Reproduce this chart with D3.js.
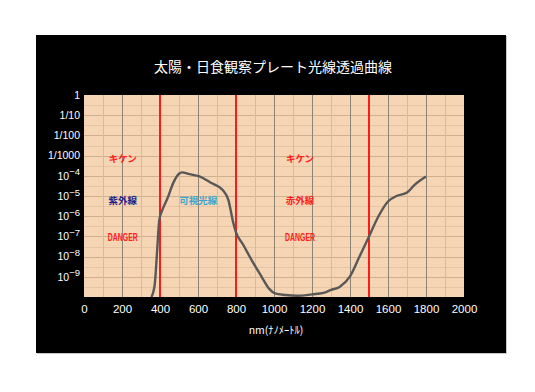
<!DOCTYPE html>
<html>
<head>
<meta charset="utf-8">
<script src="https://cdn.jsdelivr.net/npm/d3@7"></script>
<style>
  body { margin: 0; background: #fff; }
  text { font-family: "Liberation Sans", Arial, sans-serif; }
  .jp { font-family: "Noto Sans CJK JP", sans-serif; }
</style>
</head>
<body>
<div id="chart"></div>
<script>
// transmission curve (wavelength nm, log10 of transmittance)
const wavelength = [355, 372, 385, 396, 410, 440, 470, 500, 515, 555, 605, 665, 730, 760, 785, 800,
    837, 890, 935, 975, 1005, 1060, 1120, 1200, 1260, 1300, 1345, 1400, 1450, 1500, 1550, 1600,
    1645, 1700, 1740, 1800];
const logTrans = [-10, -9.4, -7.7, -6.2, -5.75, -5.1, -4.35, -3.9, -3.83, -3.92, -4.02, -4.33, -4.7, -5.2, -6.3, -6.8,
    -7.4, -8.3, -9.0, -9.6, -9.82, -9.9, -9.94, -9.87, -9.8, -9.65, -9.5, -8.98, -8.0, -7.0, -6.0, -5.27,
    -5.0, -4.83, -4.45, -4.04];

const xTicks = [0, 200, 400, 600, 800, 1000, 1200, 1400, 1600, 1800, 2000];
const yTickExp = [0, -1, -2, -3, -4, -5, -6, -7, -8, -9];
const yTickLabels = ["1", "1/10", "1/100", "1/1000", "10^−4", "10^−5", "10^−6", "10^−7", "10^−8", "10^−9"];
const dangerLines = [400, 800, 1500];

// region labels: text, wavelength anchor, log10 anchor
const regionText = ["キケン", "キケン", "紫外線", "可視光線", "赤外線", "DANGER", "DANGER"];
const regionNm = [204, 1137, 204, 601, 1137, 204, 1137];
const regionLog = [-3.17, -3.17, -5.25, -5.25, -5.25, -7.03, -7.03];
const regionKind = ["warn", "warn", "uv", "vis", "ir", "warn", "warn"];

const title = "太陽・日食観察プレート光線透過曲線";
const xTitle = "nm(ﾅﾉﾒｰﾄﾙ)";

const W = 535, H = 392;
const plot = { left: 84, top: 95, width: 380, height: 202 };

const svg = d3.select("#chart").append("svg")
    .attr("width", W)
    .attr("height", H);

// black panel with light shadow edge
svg.append("rect")
    .attr("x", 37).attr("y", 36).attr("width", 470).attr("height", 318)
    .attr("fill", "#c8c8c8");
svg.append("rect")
    .attr("x", 36).attr("y", 35).attr("width", 470).attr("height", 318)
    .attr("fill", "#000");

svg.append("text")
    .attr("class", "jp")
    .attr("x", 273).attr("y", 72)
    .attr("text-anchor", "middle")
    .attr("fill", "#fff")
    .attr("font-size", 14)
    .text(title);

const x = d3.scaleLinear().domain([0, 2000]).range([0, plot.width]);
const y = d3.scaleLog().domain([1e-10, 1]).range([plot.height, 0]);

const g = svg.append("g")
    .attr("transform", `translate(${plot.left},${plot.top})`);

g.append("rect")
    .attr("width", plot.width).attr("height", plot.height)
    .attr("fill", "#f6d5b4");

// horizontal grid: half decades light, decades darker
const halfDec = d3.range(-9.5, 0, 1);
g.selectAll(".hminor").data(halfDec).enter().append("line")
    .attr("x1", 0).attr("x2", plot.width)
    .attr("y1", d => Math.round(y(Math.pow(10, d))) + 0.5)
    .attr("y2", d => Math.round(y(Math.pow(10, d))) + 0.5)
    .attr("stroke", "#e7c4a3");
g.selectAll(".hmajor").data(yTickExp.slice(1)).enter().append("line")
    .attr("x1", 0).attr("x2", plot.width)
    .attr("y1", d => Math.round(y(Math.pow(10, d))) + 0.5)
    .attr("y2", d => Math.round(y(Math.pow(10, d))) + 0.5)
    .attr("stroke", "#d0af8f");

// vertical grid: every 100 light, every 200 dark
g.selectAll(".vminor").data(d3.range(100, 2000, 200)).enter().append("line")
    .attr("y1", 0).attr("y2", plot.height)
    .attr("x1", d => Math.round(x(d)) + 0.5)
    .attr("x2", d => Math.round(x(d)) + 0.5)
    .attr("stroke", "#dcb998");
g.selectAll(".vmajor").data(xTicks.slice(1, -1)).enter().append("line")
    .attr("y1", 0).attr("y2", plot.height)
    .attr("x1", d => Math.round(x(d)) + 0.5)
    .attr("x2", d => Math.round(x(d)) + 0.5)
    .attr("stroke", "#8e8476");

// red danger borders
g.selectAll(".danger").data(dangerLines).enter().append("line")
    .attr("y1", 0).attr("y2", plot.height)
    .attr("x1", d => x(d)).attr("x2", d => x(d))
    .attr("stroke", "#ff1a1a")
    .attr("stroke-width", 2);

// region labels
const regionColor = { warn: "#ff2020", uv: "#1e1e88", vis: "#3aa6cf", ir: "#ff2020" };
g.selectAll(".region").data(regionText).enter().append("text")
    .attr("class", d => d === "DANGER" ? "" : "jp")
    .attr("x", (d, i) => x(regionNm[i]))
    .attr("y", (d, i) => y(Math.pow(10, regionLog[i])))
    .attr("dy", "0.36em")
    .attr("text-anchor", "middle")
    .attr("font-size", d => d === "DANGER" ? 11 : 9.5)
    .attr("font-weight", "bold")
    .attr("fill", (d, i) => regionColor[regionKind[i]])
    .attr("textLength", d => d === "DANGER" ? 30 : null)
    .attr("lengthAdjust", "spacingAndGlyphs")
    .text(d => d);

// transmission curve
const pts = wavelength.map((w, i) => [w, Math.pow(10, logTrans[i])]);
const line = d3.line()
    .x(d => x(d[0]))
    .y(d => y(d[1]))
    .curve(d3.curveMonotoneX);
g.append("path")
    .datum(pts)
    .attr("d", line)
    .attr("fill", "none")
    .attr("stroke", "#585858")
    .attr("stroke-width", 2.4)
    .attr("stroke-linejoin", "round");

// axes
const xAxis = d3.axisBottom(x).tickValues(xTicks).tickSize(0).tickPadding(8)
    .tickFormat(d3.format("d"));
const xg = g.append("g")
    .attr("transform", `translate(0,${plot.height})`)
    .call(xAxis);
xg.select(".domain").remove();
xg.selectAll("text").attr("fill", "#fff").attr("font-size", 11.5)
    .attr("font-family", "Liberation Sans, Arial, sans-serif");

const yAxis = d3.axisLeft(y)
    .tickValues(yTickExp.map(e => Math.pow(10, e)))
    .tickSize(0).tickPadding(4)
    .tickFormat(() => "");
const yg = g.append("g").call(yAxis);
yg.select(".domain").remove();
yg.selectAll("text").each(function(d, i) {
    const t = d3.select(this)
        .attr("fill", "#fff")
        .attr("font-size", 10.5)
        .attr("font-family", "Liberation Sans, Arial, sans-serif");
    const lab = yTickLabels[i];
    if (lab.indexOf("^") < 0) {
        t.text(lab);
    } else {
        const parts = lab.split("^");
        t.append("tspan").text(parts[0]);
        t.append("tspan").attr("dy", "-0.45em").attr("font-size", 9.5).text(parts[1]);
    }
});

svg.append("text")
    .attr("class", "jp")
    .attr("x", 276).attr("y", 334)
    .attr("text-anchor", "middle")
    .attr("fill", "#fff")
    .attr("font-size", 10.5)
    .text(xTitle);
</script>
</body>
</html>
